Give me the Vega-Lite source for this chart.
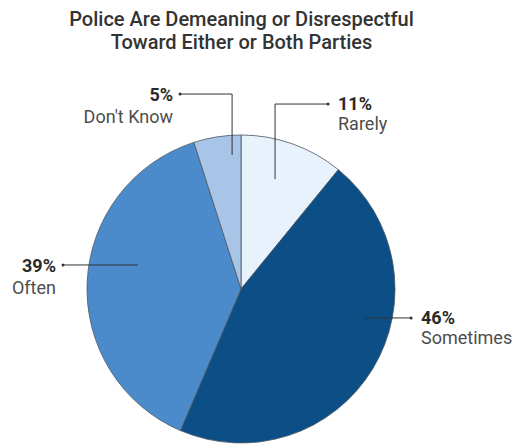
{
  "$schema": "https://vega.github.io/schema/vega-lite/v6.json",
  "width": 521,
  "height": 385,
  "autosize": {"type": "none"},
  "padding": {"left": 0, "top": 60, "right": 0, "bottom": 0},
  "background": "white",
  "config": {"view": {"stroke": null}, "font": "Roboto"},
  "title": {
    "text": ["Police Are Demeaning or Disrespectful", "Toward Either or Both Parties"],
    "font": "Roboto",
    "fontSize": 20,
    "fontWeight": 500,
    "color": "#333333",
    "lineHeight": 23,
    "anchor": "middle",
    "dx": -19,
    "offset": 7
  },
  "datasets": {
    "pie": [
      {"category": "Rarely", "percent": 11, "order": 1},
      {"category": "Sometimes", "percent": 46, "order": 2},
      {"category": "Often", "percent": 39, "order": 3},
      {"category": "Don't Know", "percent": 5, "order": 4}
    ],
    "leaders": [
      {"category": "Don't Know", "i": 1, "x": -0.396, "y": 1.266},
      {"category": "Don't Know", "i": 2, "x": -0.058, "y": 1.266},
      {"category": "Don't Know", "i": 3, "x": -0.058, "y": 0.870},
      {"category": "Rarely", "i": 1, "x": 0.221, "y": 0.714},
      {"category": "Rarely", "i": 2, "x": 0.221, "y": 1.201},
      {"category": "Rarely", "i": 3, "x": 0.565, "y": 1.201},
      {"category": "Often", "i": 1, "x": -0.669, "y": 0.156},
      {"category": "Often", "i": 2, "x": -1.156, "y": 0.156},
      {"category": "Sometimes", "i": 1, "x": 0.805, "y": -0.188},
      {"category": "Sometimes", "i": 2, "x": 1.104, "y": -0.188}
    ],
    "labels": [
      {"category": "Don't Know", "pct": "5%", "side": "left", "x": -0.396, "y": 1.266},
      {"category": "Rarely", "pct": "11%", "side": "right", "x": 0.565, "y": 1.201},
      {"category": "Often", "pct": "39%", "side": "left", "x": -1.156, "y": 0.156},
      {"category": "Sometimes", "pct": "46%", "side": "right", "x": 1.104, "y": -0.188}
    ]
  },
  "layer": [
    {
      "data": {"name": "pie"},
      "mark": {"type": "arc", "outerRadius": 154, "stroke": "#4a5560", "strokeWidth": 0.8},
      "encoding": {
        "x": {"datum": 0, "type": "quantitative", "scale": {"domain": [-1.565, 1.818], "nice": false, "zero": false}, "axis": null},
        "y": {"datum": 0, "type": "quantitative", "scale": {"domain": [-1.013, 1.487], "nice": false, "zero": false}, "axis": null},
        "theta": {"field": "percent", "type": "quantitative", "stack": true},
        "order": {"field": "order", "type": "quantitative"},
        "color": {
          "field": "category",
          "type": "nominal",
          "scale": {"domain": ["Rarely", "Sometimes", "Often", "Don't Know"], "range": ["#e8f2fc", "#0b4f86", "#4b8bcb", "#a8c4e6"]},
          "legend": null
        }
      }
    },
    {
      "data": {"name": "leaders"},
      "mark": {"type": "line", "color": "#2f3338", "strokeWidth": 1},
      "encoding": {
        "x": {"field": "x", "type": "quantitative", "axis": null},
        "y": {"field": "y", "type": "quantitative", "axis": null},
        "detail": {"field": "category"},
        "order": {"field": "i", "type": "quantitative"}
      }
    },
    {
      "data": {"name": "labels"},
      "mark": {"type": "point", "filled": true, "size": 9, "color": "#2f3338", "opacity": 1},
      "encoding": {
        "x": {"field": "x", "type": "quantitative", "axis": null},
        "y": {"field": "y", "type": "quantitative", "axis": null}
      }
    },
    {
      "data": {"name": "labels"},
      "transform": [{"filter": "datum.side == 'left'"}],
      "mark": {"type": "text", "align": "right", "baseline": "middle", "dx": -7, "dy": 2, "fontSize": 18, "fontWeight": "bold", "color": "#2a2a2a"},
      "encoding": {
        "x": {"field": "x", "type": "quantitative", "axis": null},
        "y": {"field": "y", "type": "quantitative", "axis": null},
        "text": {"field": "pct"}
      }
    },
    {
      "data": {"name": "labels"},
      "transform": [{"filter": "datum.side == 'left'"}],
      "mark": {"type": "text", "align": "right", "baseline": "middle", "dx": -7, "dy": 24, "fontSize": 18, "color": "#4d4d4d"},
      "encoding": {
        "x": {"field": "x", "type": "quantitative", "axis": null},
        "y": {"field": "y", "type": "quantitative", "axis": null},
        "text": {"field": "category"}
      }
    },
    {
      "data": {"name": "labels"},
      "transform": [{"filter": "datum.side == 'right'"}],
      "mark": {"type": "text", "align": "left", "baseline": "middle", "dx": 10, "dy": 1, "fontSize": 18, "fontWeight": "bold", "color": "#2a2a2a"},
      "encoding": {
        "x": {"field": "x", "type": "quantitative", "axis": null},
        "y": {"field": "y", "type": "quantitative", "axis": null},
        "text": {"field": "pct"}
      }
    },
    {
      "data": {"name": "labels"},
      "transform": [{"filter": "datum.side == 'right'"}],
      "mark": {"type": "text", "align": "left", "baseline": "middle", "dx": 10, "dy": 21, "fontSize": 18, "color": "#4d4d4d"},
      "encoding": {
        "x": {"field": "x", "type": "quantitative", "axis": null},
        "y": {"field": "y", "type": "quantitative", "axis": null},
        "text": {"field": "category"}
      }
    }
  ]
}
